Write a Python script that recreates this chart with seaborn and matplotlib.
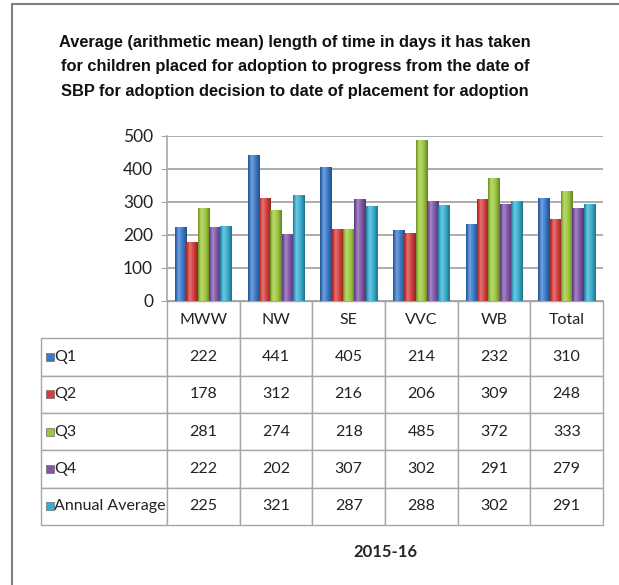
import numpy as np
import pandas as pd
import seaborn as sns
import matplotlib.pyplot as plt
from matplotlib.colors import to_rgb
from matplotlib.lines import Line2D

# -----------------------------
# Data
# -----------------------------
regions = ['MWW', 'NW', 'SE', 'VVC', 'WB', 'Total']
series = ['Q1', 'Q2', 'Q3', 'Q4', 'Annual Average']
q1 = [222, 441, 405, 214, 232, 310]
q2 = [178, 312, 216, 206, 309, 248]
q3 = [281, 274, 218, 485, 372, 333]
q4 = [222, 202, 307, 302, 291, 279]
annual = [225, 321, 287, 288, 302, 291]
colors = ['#3A78C8', '#D33D3B', '#9CC63C', '#7F56A8', '#36AECF']

title = ('Average (arithmetic mean) length of time in days it has taken\n'
         'for children placed for adoption to progress from the date of\n'
         'SBP for adoption decision to date of placement for adoption')

values = [q1, q2, q3, q4, annual]
df = pd.DataFrame({
    'region': regions * len(series),
    'series': np.repeat(series, len(regions)),
    'days': np.concatenate(values),
})

sns.set_style('white')
plt.rcParams['font.family'] = ['Lato', 'DejaVu Sans']

W, H = 619, 585
fig = plt.figure(figsize=(W / 100, H / 100), dpi=100)
ax = fig.add_axes([167 / W, 1 - 301 / H, 436 / W, 165 / H])

sns.barplot(data=df, x='region', y='days', hue='series', palette=colors,
            saturation=1, width=0.78, legend=False, ax=ax)

# -----------------------------
# Excel-like shading on bars
# -----------------------------
prof = np.interp(np.linspace(0, 1, 40), [0, 0.3, 0.65, 1], [-0.3, 0.3, 0.0, -0.35])
for bar in list(ax.patches):
    x0, w, h = bar.get_x(), bar.get_width(), bar.get_height()
    base = np.array(to_rgb(bar.get_facecolor()))
    rgb = np.array([base + (1 - base) * p if p > 0 else base * (1 + p) for p in prof])
    ax.imshow(rgb[None, :, :], extent=[x0, x0 + w, 0, h], aspect='auto',
              interpolation='bilinear', zorder=3)
    bar.set_visible(False)

ax.set_xlim(-0.5, len(regions) - 0.5)
ax.set_ylim(0, 500)
ax.set_yticks(range(0, 501, 100))
ax.set_xticks([])
ax.set_ylabel('')
ax.yaxis.grid(True, color='#A6A6A6', linewidth=1.3)
ax.set_axisbelow(True)
for s in ['top', 'right']:
    ax.spines[s].set_visible(False)
for s in ['left', 'bottom']:
    ax.spines[s].set_color('#A6A6A6')
    ax.spines[s].set_linewidth(1.2)
ax.tick_params(axis='y', left=True, length=4, color='#A6A6A6',
               labelsize=12.5, labelcolor='#222222', pad=6)
ax.set_xlabel('2015-16', fontsize=12, fontweight='bold', labelpad=175)

# -----------------------------
# Data table
# -----------------------------
cell_text = [[s] + [str(v) for v in vals] for s, vals in zip(series, values)]
tab = ax.table(cellText=cell_text, colLabels=[''] + regions,
               colWidths=[126] + [72.67] * len(regions),
               cellLoc='center', bbox=[-126 / 436, -224 / 165, 562 / 436, 224 / 165])
tab.auto_set_font_size(False)
tab.set_fontsize(11.5)
for (r, c), cell in tab.get_celld().items():
    cell.set_edgecolor('#A6A6A6')
    cell.set_linewidth(1.0)
    cell.get_text().set_color('#222222')
    if c == 0:
        cell.get_text().set_ha('left')
        cell.PAD = 0.105
    if r == 0 and c == 0:
        cell.visible_edges = 'open'

# legend keys inside the table
nrow = len(series) + 1
for i, col in enumerate(colors):
    yc = -224 / 165 + (224 / 165) * (nrow - 1.5 - i) / nrow
    ax.scatter([(-126 + 9) / 436], [yc], marker='s', s=40, color=col,
               edgecolor='#555555', linewidth=0.4,
               transform=ax.transAxes, clip_on=False, zorder=5)

fig.text(295 / W, 1 - 67 / H, title, ha='center', va='center',
         fontsize=11.8, fontweight='bold', linespacing=1.8,
         family=['Liberation Sans', 'DejaVu Sans'], color='#111111')

# outer frame (left and top)
fig.add_artist(Line2D([12 / W, 12 / W], [0, 1 - 4 / H], color='#7F7F7F', lw=1.5))
fig.add_artist(Line2D([12 / W, 1], [1 - 4 / H, 1 - 4 / H], color='#7F7F7F', lw=1.5))

fig.savefig('out.png', dpi=100)
